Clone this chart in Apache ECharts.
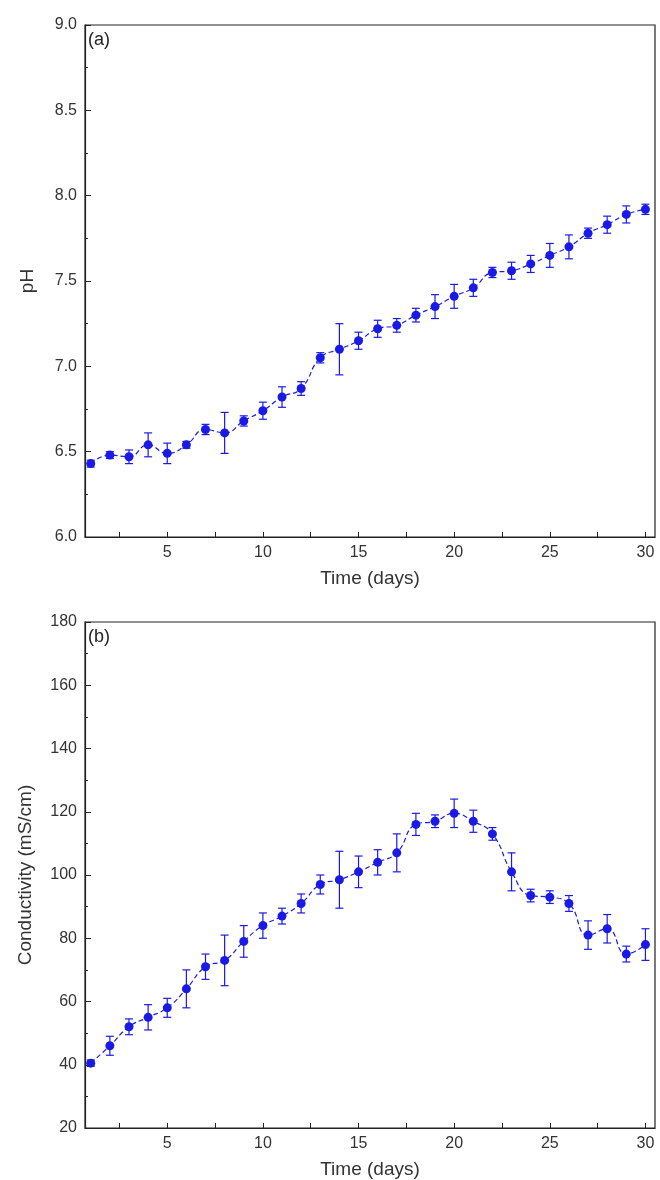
<!DOCTYPE html>
<html>
<head>
<meta charset="utf-8">
<script src="https://cdn.jsdelivr.net/npm/echarts@6/dist/echarts.min.js"></script>
<style>
html,body{margin:0;padding:0;background:#fff;}
#chart{width:660px;height:1180px;}
</style>
</head>
<body>
<div id="chart"></div>
<script>
var days = [1,2,3,4,5,6,7,8,9,10,11,12,13,14,15,16,17,18,19,20,21,22,23,24,25,26,27,28,29,30];
var phValues = [6.43,6.48,6.47,6.54,6.49,6.54,6.63,6.61,6.68,6.74,6.82,6.87,7.05,7.10,7.15,7.22,7.24,7.30,7.35,7.41,7.46,7.55,7.56,7.60,7.65,7.70,7.78,7.83,7.89,7.92];
var phErrors = [0.02,0.02,0.04,0.07,0.06,0.02,0.03,0.12,0.03,0.05,0.06,0.04,0.03,0.15,0.05,0.05,0.04,0.04,0.07,0.07,0.05,0.03,0.05,0.05,0.07,0.07,0.03,0.05,0.05,0.03];
var condValues = [40.5,46,52,55,58,64,71,73,79,84,87,91,97,98.5,101,104,107,116,117,119.5,117,113,101,93.5,93,91,81,83,75,78];
var condErrors = [1,3,2.5,4,3,6,4,8,5,4,2.5,3,3,9,5,4,6,3.5,2,4.5,3.5,2,6,2,2,2.5,4.5,4.5,2.5,5];
var xTickLabels = [5,10,15,20,25,30];
var xTicks = [2.5,5,7.5,10,12.5,15,17.5,20,22.5,25,27.5,30];

var blue = '#1a1ae6';
var font = 'Liberation Sans, Arial, sans-serif';

function pairs(vals){
  return days.map(function(d,i){ return [d, vals[i]]; });
}
function errData(vals, errs){
  return days.map(function(d,i){ return [d, vals[i]-errs[i], vals[i]+errs[i]]; });
}
function renderErr(params, api){
  var x = api.value(0);
  var lo = api.coord([x, api.value(1)]);
  var hi = api.coord([x, api.value(2)]);
  var w = 4;
  var st = {stroke: blue, lineWidth: 1.2};
  return {type:'group', children:[
    {type:'line', shape:{x1:lo[0],y1:lo[1],x2:hi[0],y2:hi[1]}, style:st},
    {type:'line', shape:{x1:lo[0]-w,y1:lo[1],x2:lo[0]+w,y2:lo[1]}, style:st},
    {type:'line', shape:{x1:hi[0]-w,y1:hi[1],x2:hi[0]+w,y2:hi[1]}, style:st}
  ]};
}

function xAxis(idx){
  return {
    type:'value', gridIndex:idx, min:0.7, max:30.5,
    name:'Time (days)', nameLocation:'middle', nameGap:32,
    nameTextStyle:{fontFamily:font, fontSize:19, color:'#333'},
    axisLine:{onZero:false, lineStyle:{color:'#222', width:1.2}},
    axisTick:{inside:true, length:5, customValues:xTicks, lineStyle:{color:'#222'}},
    splitLine:{show:false},
    axisLabel:{fontFamily:font, fontSize:16, color:'#333', customValues:xTickLabels}
  };
}
function yAxis(idx, min, max, interval, name, dec){
  return {
    type:'value', gridIndex:idx, min:min, max:max, interval:interval,
    name:name, nameLocation:'middle', nameGap:dec ? 48 : 50,
    nameTextStyle:{fontFamily:font, fontSize:19, color:'#333'},
    axisLine:{show:true, lineStyle:{color:'#222', width:1.2}},
    axisTick:{inside:true, length:6, lineStyle:{color:'#222'}},
    minorTick:{show:true, splitNumber:2, length:3, lineStyle:{color:'#222'}},
    splitLine:{show:false},
    axisLabel:{fontFamily:font, fontSize:16, color:'#333',
      formatter:function(v){ return dec ? v.toFixed(1) : String(v); }}
  };
}

var chart = echarts.init(document.getElementById('chart'));
chart.setOption({
  backgroundColor:'#fff',
  animation:false,
  grid:[
    {left:85, top:25, width:570, height:512, show:true, borderColor:'#222', borderWidth:1.2},
    {left:85, top:622, width:570, height:516, show:true, borderColor:'#222', borderWidth:1.2}
  ],
  graphic:[
    {type:'text', left:88, top:31, style:{text:'(a)', fontFamily:font, fontSize:18, fill:'#222'}},
    {type:'text', left:88, top:628, style:{text:'(b)', fontFamily:font, fontSize:18, fill:'#222'}}
  ],
  xAxis:[xAxis(0), xAxis(1)],
  yAxis:[yAxis(0, 6.0, 9.0, 0.5, 'pH', true), yAxis(1, 20, 180, 20, 'Conductivity (mS/cm)', false)],
  series:[
    {type:'line', xAxisIndex:0, yAxisIndex:0, data:pairs(phValues), smooth:true,
      symbol:'circle', symbolSize:9, itemStyle:{color:blue},
      lineStyle:{color:blue, width:1.2, type:[5,3]}},
    {type:'custom', xAxisIndex:0, yAxisIndex:0, data:errData(phValues, phErrors), renderItem:renderErr, z:3},
    {type:'line', xAxisIndex:1, yAxisIndex:1, data:pairs(condValues), smooth:true,
      symbol:'circle', symbolSize:9, itemStyle:{color:blue},
      lineStyle:{color:blue, width:1.2, type:[5,3]}},
    {type:'custom', xAxisIndex:1, yAxisIndex:1, data:errData(condValues, condErrors), renderItem:renderErr, z:3}
  ]
});
</script>
</body>
</html>
